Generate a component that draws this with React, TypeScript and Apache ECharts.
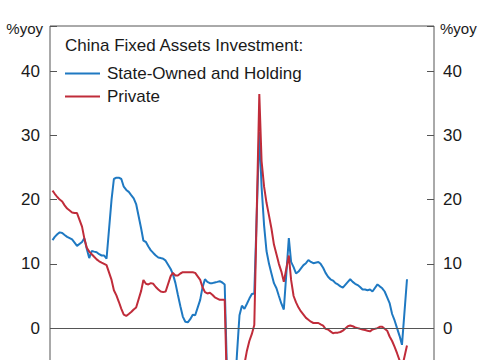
import React, { useEffect, useRef } from "react";
import * as echarts from "echarts";

// Monthly YTD readings (Jan-Feb combined, so no January point), Feb..Dec each year
const years = [2014, 2015, 2016, 2017, 2018, 2019, 2020, 2021, 2022, 2023, 2024, 2025];
const monthCodes = ["02", "03", "04", "05", "06", "07", "08", "09", "10", "11", "12"];
const lastMonth = "2026-02";

const stateOwned = [
  13.7, 14.2, 14.6, 14.9, 14.8, 14.5, 14.2, 14.0, 13.8, 13.3, 12.8, // 2014
  13.4, 14.0, 12.3, 10.9, 12.0, 11.9, 11.8, 11.5, 11.3, 11.3, 10.8, // 2015
  20.0, 23.2, 23.4, 23.4, 23.2, 22.0, 21.5, 21.2, 20.7, 20.2, 19.3, // 2016
  15.5, 13.6, 13.4, 12.7, 12.1, 11.7, 11.3, 11.0, 10.9, 10.8, 10.5, // 2017
  9.2, 8.4, 7.0, 5.2, 3.4, 1.8, 1.0, 0.9, 1.4, 2.1, 2.0, // 2018
  4.4, 6.3, 7.6, 7.2, 7.0, 7.0, 7.1, 7.2, 7.3, 7.1, 6.8, // 2019
  -23.0, -17.0, -10.5, -4.0, 2.0, 3.5, 3.0, 3.8, 4.6, 5.3, 5.4, // 2020
  30.5, 22.0, 16.0, 12.0, 10.0, 8.5, 7.0, 6.2, 5.0, 3.8, 2.9, // 2021
  14.0, 10.3, 9.5, 8.5, 8.8, 9.3, 9.8, 10.1, 10.6, 10.3, 10.1, // 2022
  10.3, 10.0, 9.4, 8.6, 8.0, 7.6, 7.4, 7.0, 6.8, 6.5, 6.3, // 2023
  7.2, 7.6, 7.2, 6.9, 6.7, 6.4, 6.0, 6.0, 5.9, 6.0, 5.7, // 2024
  6.8, 6.5, 6.2, 5.7, 4.8, 3.9, 2.2, 1.2, 0.0, -1.2, -2.6, // 2025
  7.6, // 2026 Feb
];

const privateInv = [
  21.4, 20.9, 20.4, 20.0, 19.7, 19.1, 18.6, 18.3, 18.0, 17.9, 17.9, // 2014
  15.8, 14.0, 12.5, 11.9, 11.5, 11.1, 10.7, 10.4, 10.2, 10.0, 9.8, // 2015
  7.5, 5.9, 5.1, 4.1, 3.0, 2.1, 1.9, 2.2, 2.5, 2.9, 3.2, // 2016
  5.8, 7.5, 6.9, 6.8, 7.0, 6.9, 6.4, 6.0, 5.7, 5.6, 5.7, // 2017
  8.1, 8.6, 8.2, 8.2, 8.5, 8.7, 8.7, 8.7, 8.7, 8.7, 8.6, // 2018
  7.5, 6.4, 5.6, 5.4, 5.5, 5.2, 4.8, 4.6, 4.4, 4.4, 4.4, // 2019
  -26.4, -22.8, -19.2, -13.3, -9.0, -7.0, -5.6, -3.5, -2.0, -0.9, 0.5, // 2020
  36.4, 26.0, 22.0, 19.5, 17.5, 15.5, 13.0, 11.5, 10.0, 8.8, 7.2, // 2021
  11.3, 7.5, 5.0, 4.0, 3.2, 2.6, 2.1, 1.6, 1.3, 1.0, 0.8, // 2022
  0.8, 0.6, 0.4, -0.1, -0.2, -0.5, -0.8, -0.7, -0.7, -0.6, -0.4, // 2023
  0.3, 0.4, 0.3, 0.1, 0.0, -0.1, -0.2, -0.3, -0.4, -0.5, -0.2, // 2024
  0.0, 0.2, 0.2, -0.1, -0.4, -1.3, -2.0, -2.9, -3.9, -5.0, -6.2, // 2025
  -2.7, // 2026 Feb
];

const seriesNames = ["State-Owned and Holding", "Private"];
const chartTitle = "China Fixed Assets Investment:";
const axisUnit = "%yoy";

const FONT = "'Liberation Sans', Arial, Helvetica, sans-serif";
const BLUE = "#1f79c2";
const RED = "#c02c3a";
const FRAME = "#555555";
const TEXT = "#1a1a1a";

export default function App() {
  const ref = useRef<HTMLDivElement>(null);

  useEffect(() => {
    if (!ref.current) return;
    const chart = echarts.init(ref.current, undefined, { renderer: "svg" });
    const dates = years
      .flatMap((y) => monthCodes.map((m) => `${y}-${m}-01`))
      .concat([`${lastMonth}-01`]);
    const pairs = (vals: number[]) => dates.map((d, i) => [d, vals[i]]);
    // only the labels visible inside the photographed area (0..40)
    const labelFmt = (v: number) => (Math.abs(v % 10) < 1e-9 && v >= 0 ? String(v) : "");

    const yCommon = {
      type: "value",
      min: -30,
      max: 47,
      interval: 10,
      splitLine: { show: false },
      axisLine: { show: false },
      axisTick: { show: true, inside: true, length: 7, lineStyle: { color: FRAME, width: 1 } },
      nameLocation: "end",
      nameGap: -2,
    };

    chart.setOption({
      animation: false,
      backgroundColor: "#ffffff",
      textStyle: { fontFamily: FONT },
      title: {
        text: chartTitle,
        left: 65,
        top: 37,
        padding: 0,
        textStyle: { fontSize: 17, fontWeight: "normal", color: TEXT, fontFamily: FONT },
      },
      legend: {
        orient: "vertical",
        left: 65,
        top: 65,
        padding: 0,
        itemWidth: 35,
        itemHeight: 2,
        itemGap: 6,
        icon: "rect",
        textStyle: { fontSize: 17, color: TEXT, fontFamily: FONT, padding: [0, 0, 0, 2] },
        data: seriesNames,
      },
      grid: {
        left: 50,
        right: 51,
        top: 26,
        bottom: 39,
        show: true,
        borderColor: FRAME,
        borderWidth: 1,
        containLabel: false,
      },
      xAxis: {
        type: "time",
        min: "2014-01-01",
        max: "2027-01-01",
        axisLine: { show: false },
        axisTick: { show: false },
        splitLine: { show: false },
        axisLabel: { show: false },
      },
      yAxis: [
        {
          ...yCommon,
          position: "left",
          name: axisUnit,
          nameTextStyle: {
            fontSize: 15,
            color: TEXT,
            fontFamily: FONT,
            align: "right",
            verticalAlign: "middle",
            padding: [0, 7, 0, 0],
          },
          axisLabel: { fontSize: 17, color: TEXT, fontFamily: FONT, margin: 10, formatter: labelFmt },
        },
        {
          ...yCommon,
          position: "right",
          name: axisUnit,
          nameTextStyle: {
            fontSize: 15,
            color: TEXT,
            fontFamily: FONT,
            align: "left",
            verticalAlign: "middle",
            padding: [0, 0, 0, 6],
          },
          axisLabel: { fontSize: 17, color: TEXT, fontFamily: FONT, margin: 9, formatter: labelFmt },
        },
      ],
      series: [
        {
          name: seriesNames[0],
          type: "line",
          data: pairs(stateOwned),
          showSymbol: false,
          symbol: "none",
          lineStyle: { color: BLUE, width: 2 },
          itemStyle: { color: BLUE },
          markLine: {
            silent: true,
            symbol: "none",
            label: { show: false },
            lineStyle: { color: FRAME, width: 1, type: "solid" },
            data: [{ yAxis: 0 }],
          },
          z: 2,
        },
        {
          name: seriesNames[1],
          type: "line",
          data: pairs(privateInv),
          showSymbol: false,
          symbol: "none",
          lineStyle: { color: RED, width: 2 },
          itemStyle: { color: RED },
          z: 3,
        },
      ],
    });
    return () => chart.dispose();
  }, []);

  return (
    <div
      style={{
        position: "fixed",
        left: 0,
        top: 0,
        width: 485,
        height: 360,
        overflow: "hidden",
        background: "#fff",
      }}
    >
      <div ref={ref} style={{ width: 485, height: 560 }} />
    </div>
  );
}
